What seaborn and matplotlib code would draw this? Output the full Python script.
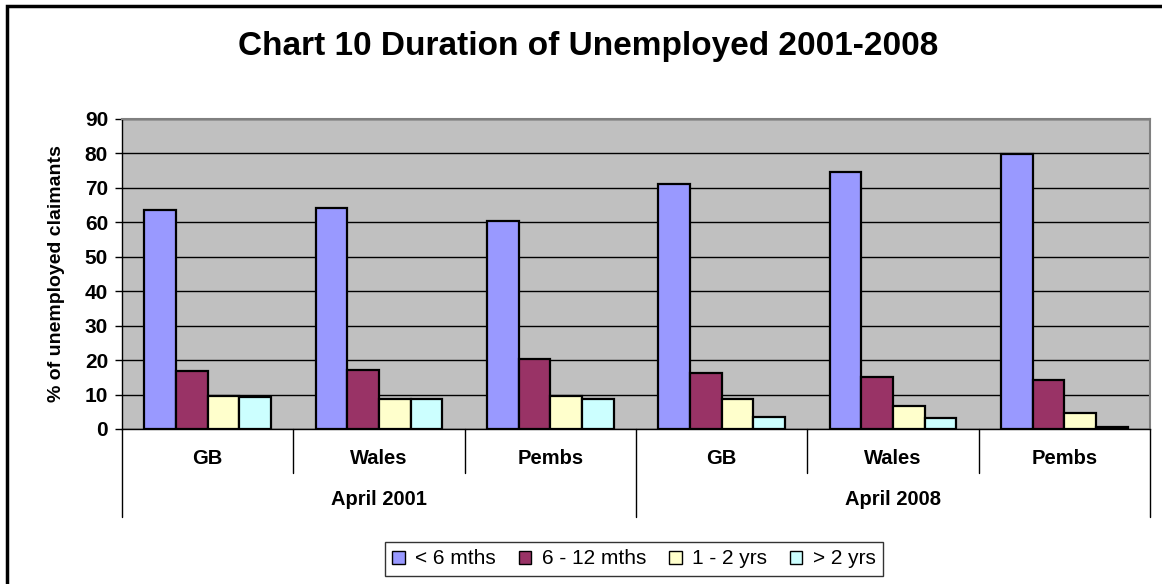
import pandas as pd
import matplotlib.pyplot as plt
import seaborn as sns
from matplotlib.patches import Rectangle
from matplotlib.transforms import blended_transform_factory

periods = ["April 2001", "April 2008"]
areas = ["GB", "Wales", "Pembs"]
durations = ["< 6 mths", "6 - 12 mths", "1 - 2 yrs", "> 2 yrs"]

# % of claimants, per period/area in order GB, Wales, Pembs
under_6m = [63.5, 64.1, 60.4, 71.0, 74.6, 79.9]
m6_12 = [16.8, 17.2, 20.3, 16.2, 15.1, 14.1]
y1_2 = [9.7, 8.8, 9.7, 8.8, 6.7, 4.6]
over_2y = [9.3, 8.8, 8.8, 3.6, 3.1, 0.5]

colors = ["#9999FF", "#993366", "#FFFFCC", "#CCFFFF"]

slots = [f"{p}|{a}" for p in periods for a in areas]
rows = []
for name, vals in zip(durations, [under_6m, m6_12, y1_2, over_2y]):
    for s, v in zip(slots, vals):
        rows.append({"slot": s, "duration": name, "pct": v})
df = pd.DataFrame(rows)

sns.set_style("white")
plt.rcParams["font.family"] = ["Liberation Sans", "DejaVu Sans"]
plt.rcParams["text.color"] = "black"
plt.rcParams["axes.labelcolor"] = "black"
plt.rcParams["ytick.color"] = "black"

fig = plt.figure(figsize=(11.62, 5.84), dpi=100)
ax = fig.add_axes([122 / 1162, 1 - 429 / 584, 1028 / 1162, 310 / 584])

sns.barplot(
    data=df, x="slot", y="pct", hue="duration", order=slots,
    hue_order=durations, palette=colors, width=0.74, gap=0, saturation=1,
    edgecolor="black", linewidth=1.6, ax=ax, legend=False, zorder=3,
)

ax.set_facecolor("#C0C0C0")
ax.set_xlim(-0.5, 5.5)
ax.set_ylim(0, 90)
ax.set_yticks(range(0, 91, 10))
ax.yaxis.grid(True, color="black", linewidth=1)
ax.set_axisbelow(True)
ax.tick_params(axis="y", direction="out", length=5, width=1, left=True,
               labelsize=15, pad=5)
for lab in ax.get_yticklabels():
    lab.set_fontweight("bold")
ax.set_xticks([])
ax.set_xlabel("")
ax.set_ylabel("% of unemployed claimants", fontsize=14, fontweight="bold",
              labelpad=14)

for side in ["top", "right"]:
    ax.spines[side].set_color("#808080")
    ax.spines[side].set_linewidth(1.5)
ax.spines["left"].set_color("black")
ax.spines["bottom"].set_color("black")
ax.spines["left"].set_linewidth(1)
ax.spines["bottom"].set_linewidth(1)

# two-level category axis
tr = blended_transform_factory(ax.transData, ax.transAxes)
for i in range(7):
    x = i - 0.5
    low = -0.284 if i in (0, 3, 6) else -0.142
    ax.plot([x, x], [0, low], color="black", linewidth=1, transform=tr,
            clip_on=False)
for i, s in enumerate(slots):
    ax.text(i, -0.094, s.split("|")[1], transform=tr, ha="center",
            va="center", fontsize=14.5, fontweight="bold")
for j, p in enumerate(periods):
    ax.text(j * 3 + 1, -0.229, p, transform=tr, ha="center", va="center",
            fontsize=14.5, fontweight="bold")

fig.text(588 / 1162, 1 - 47 / 584, "Chart 10 Duration of Unemployed 2001-2008",
         ha="center", va="center", fontsize=24, fontweight="bold")

handles = [Rectangle((0, 0), 1, 1, facecolor=c, edgecolor="black", linewidth=1)
           for c in colors]
leg = fig.legend(handles, durations, loc="center", ncol=4,
                 bbox_to_anchor=(634 / 1162, 1 - 559 / 584), fontsize=15,
                 frameon=True, fancybox=False, handlelength=0.6,
                 handleheight=0.6, handletextpad=0.5, columnspacing=1.1,
                 borderpad=0.35, edgecolor="black")
leg.get_frame().set_linewidth(1)

fig.patches.append(Rectangle((7 / 1162, -0.1), 1.2, 1 - 6 / 584 + 0.1,
                             transform=fig.transFigure, fill=False,
                             edgecolor="black", linewidth=2.5))

fig.savefig("out.png", dpi=100)
